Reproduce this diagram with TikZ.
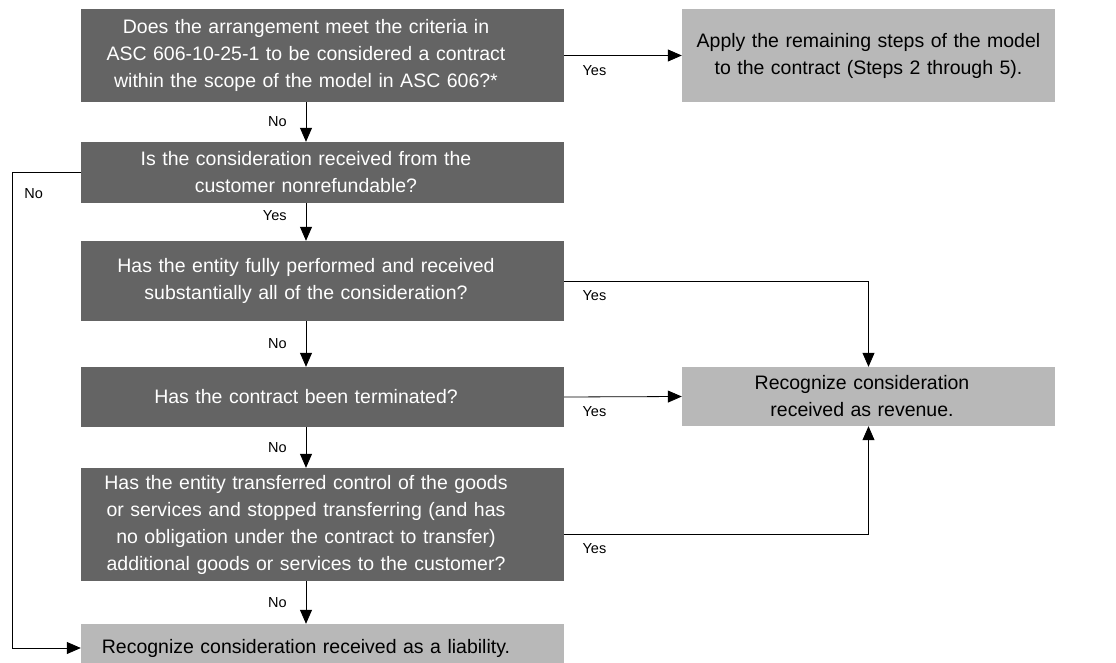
\documentclass[tikz,border=0pt]{standalone}
\usepackage{fontspec}
\setmainfont{Liberation Sans}
\usetikzlibrary{arrows.meta}
\definecolor{qgray}{HTML}{646464}
\definecolor{agray}{HTML}{B8B8B8}
\newcommand\flowboxfont{\fontsize{19.5}{27}\selectfont}
\newcommand\flowlblfont{\fontsize{14.5}{17}\selectfont}

\begin{document}
\begin{tikzpicture}[x=1pt,y=-1pt,
        textoff/.style={execute at begin node={\centering\rightskip=#1 plus 1fil}},
        textoff/.default=0pt,
        question/.style={rectangle,fill=qgray,text=white,text width=483pt,inner xsep=0pt,inner ysep=0pt,font=\flowboxfont,textoff=33pt},
        outcome/.style={rectangle,fill=agray,text=black,inner xsep=0pt,inner ysep=0pt,font=\flowboxfont},
        flow/.style={-{Triangle[length=14pt,width=12pt]},line width=0.8pt},
        answer/.style={font=\flowlblfont,inner sep=2pt}]
        \useasboundingbox (0,0) rectangle (1116,663);
        \node [question,minimum height=93pt] (q1) at (322.5,55.5) {Does the arrangement meet the criteria in\\ASC 606-10-25-1 to be considered a contract\\within the scope of the model in ASC 606?*};
        \node [question,minimum height=61pt] (q2) at (322.5,172.5) {Is the consideration received from the\\customer nonrefundable?};
        \node [question,minimum height=80pt] (q3) at (322.5,281) {Has the entity fully performed and received\\substantially all of the consideration?};
        \node [question,minimum height=60pt] (q4) at (322.5,397) {Has the contract been terminated?};
        \node [question,minimum height=113pt] (q5) at (322.5,524.5) {Has the entity transferred control of the goods\\or services and stopped transferring (and has\\no obligation under the contract to transfer)\\additional goods or services to the customer?};
        \node [outcome,text width=483pt,textoff=33pt,minimum height=48pt] (liab) at (322.5,648) {Recognize consideration received as a liability.};
        \node [outcome,text width=373pt,textoff,minimum height=93pt] (apply) at (868.5,55.5) {Apply the remaining steps of the model\\to the contract (Steps 2 through 5).};
        \node [outcome,text width=373pt,textoff=13pt,minimum height=59pt] (rev) at (868.5,396.5) {Recognize consideration\\received as revenue.};
        \coordinate (spine) at (306,0);
        \coordinate (loop) at (12,0);
        \draw[flow] (q1.south -| spine) -- node[answer,left=17pt] (no1) {No} (q2.north -| spine);
        \draw[flow] (q2.south -| spine) -- node[answer,left=17pt,pos=0.32] (yes2) {Yes} (q3.north -| spine);
        \draw[flow] (q3.south -| spine) -- node[answer,left=17pt] (no3) {No} (q4.north -| spine);
        \draw[flow] (q4.south -| spine) -- node[answer,left=17pt] (no4) {No} (q5.north -| spine);
        \draw[flow] (q5.south -| spine) -- node[answer,left=17pt] (no5) {No} (liab.north -| spine);
        \draw[flow] (q1.east) -- node[answer,pos=0,anchor=north west,xshift=16pt,yshift=-7.5pt] (yes1) {Yes} (apply.west);
        \draw[flow] (q3.east) -| node[answer,pos=0,anchor=north west,xshift=16pt,yshift=-7.5pt] (yes3) {Yes} (rev.north);
        \draw[flow] (q4.east) -- node[answer,pos=0,anchor=north west,xshift=16pt,yshift=-7.5pt] (yes4) {Yes} (rev.west);
        \draw[flow] ([yshift=-9.5pt]q5.east) -| node[answer,pos=0,anchor=north west,xshift=16pt,yshift=-7.5pt] (yes5) {Yes} (rev.south);
        \draw[flow] (q2.west) -- (q2.west -| loop) node[answer,anchor=north west,xshift=10pt,yshift=-13.5pt] (no2) {No} |- (liab.west);
\end{tikzpicture}
\end{document}
